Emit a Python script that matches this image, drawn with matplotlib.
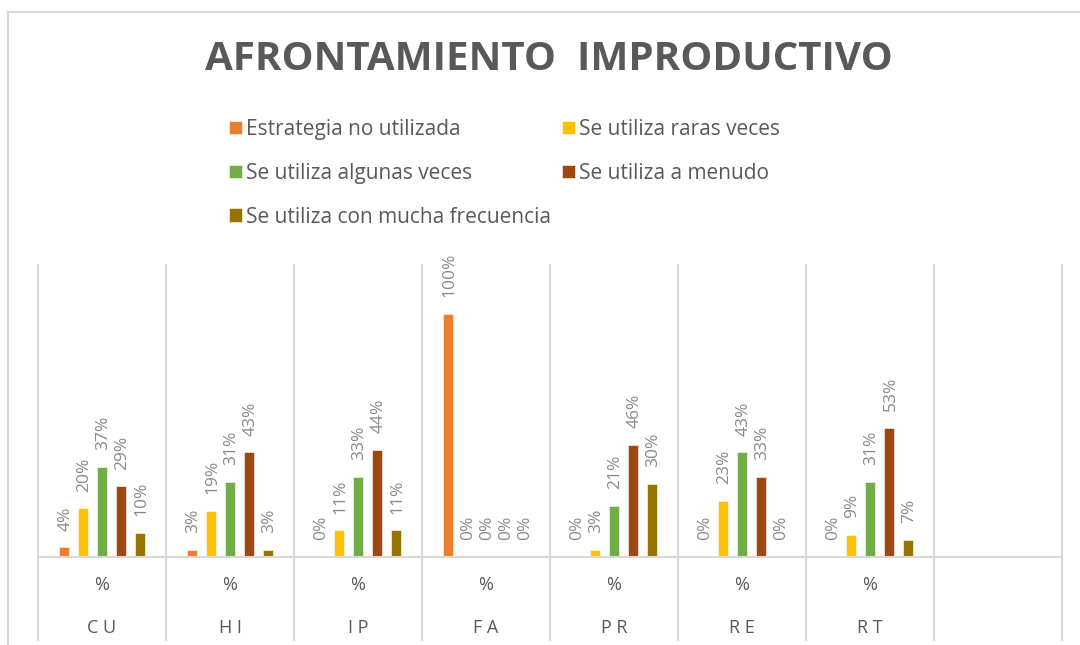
import numpy as np
import matplotlib.pyplot as plt
from matplotlib.lines import Line2D
from matplotlib.transforms import blended_transform_factory

plt.rcParams['font.family'] = ['Open Sans', 'DejaVu Sans']

categories = ["C U", "H I", "I P", "F A", "P R", "R E", "R T"]
series_names = ["Estrategia no utilizada", "Se utiliza raras veces",
                "Se utiliza algunas veces", "Se utiliza a menudo",
                "Se utiliza con mucha frecuencia"]
no_utilizada = [4, 3, 0, 100, 0, 0, 0]
raras_veces = [20, 19, 11, 0, 3, 23, 9]
algunas_veces = [37, 31, 33, 0, 21, 43, 31]
a_menudo = [29, 43, 44, 0, 46, 33, 53]
mucha_frecuencia = [10, 3, 11, 0, 30, 0, 7]
colors = ["#ED7D31", "#FFC000", "#70AD47", "#9E480E", "#997300"]

W, H = 1080, 645
fig = plt.figure(figsize=(W / 100, H / 100), dpi=100)

# outer chart border (Excel frame)
fig.add_artist(Line2D([8 / W, 8 / W], [0, 1 - 12 / H], color="#d9d9d9", lw=1.5))
fig.add_artist(Line2D([8 / W, 1], [1 - 12 / H, 1 - 12 / H], color="#d9d9d9", lw=1.5))

ax = fig.add_axes([38 / W, 1 - 557 / H, 1024 / W, 292 / H])
ax.set_xlim(0, 8)
ax.set_ylim(0, 120)
ax.axis("off")

all_series = [no_utilizada, raras_veces, algunas_veces, a_menudo, mucha_frecuencia]
x = np.arange(len(categories)) + 0.5
step = 19 / 128
bw = 10 / 128
handles = []
for i, (vals, col) in enumerate(zip(all_series, colors)):
    pos = x + (i - 2) * step
    b = ax.bar(pos, vals, width=bw, color=col, edgecolor="white", linewidth=0.4,
               label=series_names[i])
    handles.append(b)
    for px, v in zip(pos, vals):
        ax.annotate(f"{v}%", (px, v), xytext=(1, 12), textcoords="offset points",
                    rotation=90, ha="center", va="bottom", fontsize=12.5,
                    color="#8a8a8a")

# grid / category separators
tr = blended_transform_factory(ax.transData, ax.transAxes)
low = -(640 - 557) / 292
for k in range(9):
    ax.plot([k, k], [low, 1], color="#d9d9d9", lw=1.5, transform=tr, clip_on=False)
ax.plot([0, 8], [0, 0], color="#d9d9d9", lw=1.5, transform=tr, clip_on=False)

for cx, cat in zip(x, categories):
    ax.text(cx, -(585 - 557) / 292, "%", transform=tr, ha="center", va="center",
            fontsize=13, color="#595959")
    ax.text(cx, -(628 - 557) / 292, cat, transform=tr, ha="center", va="center",
            fontsize=13, color="#595959")

fig.text(549 / W, 1 - 59 / H, "AFRONTAMIENTO  IMPRODUCTIVO", ha="center",
         va="center", fontsize=29, fontweight="bold", color="#595959")

order = [0, 2, 4, 1, 3]
leg = fig.legend([handles[i] for i in order], [series_names[i] for i in order],
                 ncol=2, loc="upper left", bbox_to_anchor=(210 / W, 1 - 100 / H),
                 frameon=False, fontsize=15, labelcolor="#595959",
                 handlelength=0.62, handleheight=0.62, handletextpad=0.2,
                 columnspacing=0.55, labelspacing=1.1)

fig.savefig("out.png", dpi=100)
